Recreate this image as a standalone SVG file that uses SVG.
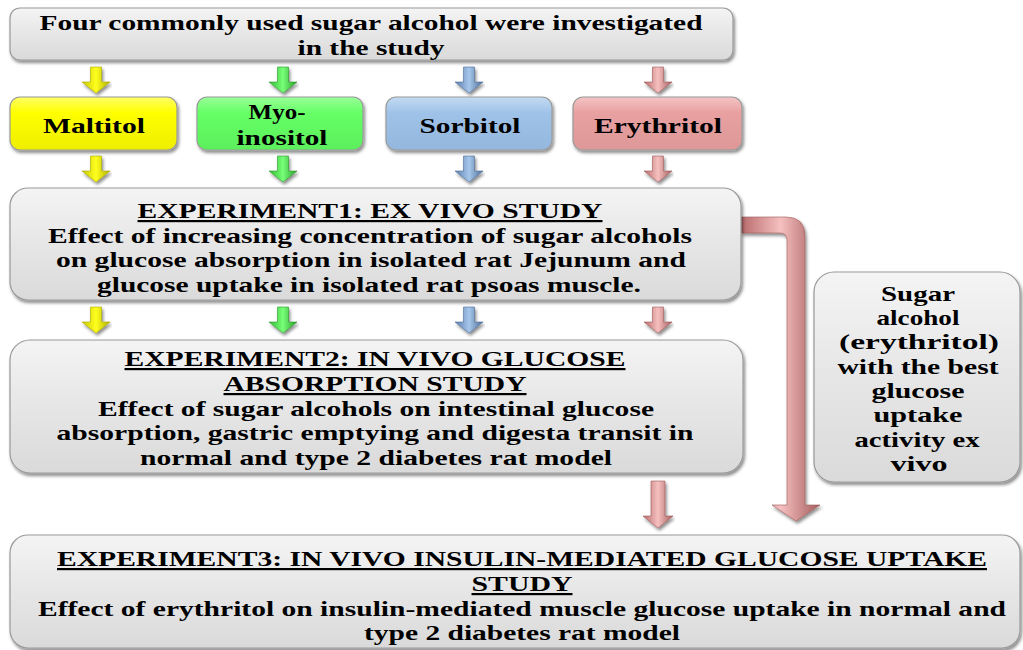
<svg xmlns="http://www.w3.org/2000/svg" width="1023" height="650" viewBox="0 0 1023 650">
<defs>
<linearGradient id="gGray" x1="0" y1="0" x2="0" y2="1">
<stop offset="0" stop-color="#f4f4f4"/><stop offset="0.5" stop-color="#e6e6e6"/><stop offset="1" stop-color="#dadada"/>
</linearGradient>
<linearGradient id="gYel" x1="0" y1="0" x2="0" y2="1">
<stop offset="0" stop-color="#ffff66"/><stop offset="0.3" stop-color="#ffff00"/><stop offset="1" stop-color="#eeee00"/>
</linearGradient>
<linearGradient id="gGrn" x1="0" y1="0" x2="0" y2="1">
<stop offset="0" stop-color="#99ff99"/><stop offset="0.3" stop-color="#66ff66"/><stop offset="1" stop-color="#5cef5c"/>
</linearGradient>
<linearGradient id="gBlu" x1="0" y1="0" x2="0" y2="1">
<stop offset="0" stop-color="#c4dbf2"/><stop offset="0.3" stop-color="#9fc3e8"/><stop offset="1" stop-color="#94b8dd"/>
</linearGradient>
<linearGradient id="gPnk" x1="0" y1="0" x2="0" y2="1">
<stop offset="0" stop-color="#f4c4c4"/><stop offset="0.3" stop-color="#e8a0a0"/><stop offset="1" stop-color="#de9898"/>
</linearGradient>
<linearGradient id="aYel" x1="0" y1="0" x2="1" y2="0">
<stop offset="0" stop-color="#c8c800"/><stop offset="0.5" stop-color="#ffff20"/><stop offset="1" stop-color="#b0b000"/>
</linearGradient>
<linearGradient id="aGrn" x1="0" y1="0" x2="1" y2="0">
<stop offset="0" stop-color="#33bb33"/><stop offset="0.5" stop-color="#77ff77"/><stop offset="1" stop-color="#2a9a2a"/>
</linearGradient>
<linearGradient id="aBlu" x1="0" y1="0" x2="1" y2="0">
<stop offset="0" stop-color="#5a7fae"/><stop offset="0.5" stop-color="#a6c6ea"/><stop offset="1" stop-color="#4f6f99"/>
</linearGradient>
<linearGradient id="aPnk" x1="0" y1="0" x2="1" y2="0">
<stop offset="0" stop-color="#b86a6a"/><stop offset="0.5" stop-color="#f6c0c0"/><stop offset="1" stop-color="#a55c5c"/>
</linearGradient>
<linearGradient id="aPnkV" x1="0" y1="0" x2="0" y2="1">
<stop offset="0" stop-color="#f6c0c0"/><stop offset="0.5" stop-color="#e4a0a0"/><stop offset="1" stop-color="#b06868"/>
</linearGradient>
<filter id="sh" x="-5%" y="-10%" width="110%" height="130%">
<feDropShadow dx="1.5" dy="2.5" stdDeviation="1.8" flood-color="#000" flood-opacity="0.45"/>
</filter>
<path id="arr" d="M-5.5,0 H5.5 V15 H14 L0,26 L-14,15 H-5.5 Z"/>
</defs>
<style>
.box{stroke:#9a9a9a;stroke-width:1.2;filter:url(#sh)}
.gray{fill:url(#gGray)}
.t{font-family:"Liberation Serif","Times New Roman",serif;font-weight:bold;font-size:22px;fill:#000;text-anchor:middle}
.u{text-decoration:underline}
.ar{filter:url(#sh)}
</style>
<rect width="1023" height="650" fill="#ffffff"/>

<g id="connectors">
<use href="#arr" x="96" y="67" fill="url(#aYel)" stroke="#a8a800" stroke-width="0.6" class="ar"/>
<use href="#arr" x="283" y="67" fill="url(#aGrn)" stroke="#2a9a2a" stroke-width="0.6" class="ar"/>
<use href="#arr" x="469" y="67" fill="url(#aBlu)" stroke="#4f6f99" stroke-width="0.6" class="ar"/>
<use href="#arr" x="658" y="67" fill="url(#aPnk)" stroke="#a05a5a" stroke-width="0.6" class="ar"/>

<use href="#arr" x="96" y="156" fill="url(#aYel)" stroke="#a8a800" stroke-width="0.6" class="ar"/>
<use href="#arr" x="283" y="156" fill="url(#aGrn)" stroke="#2a9a2a" stroke-width="0.6" class="ar"/>
<use href="#arr" x="469" y="156" fill="url(#aBlu)" stroke="#4f6f99" stroke-width="0.6" class="ar"/>
<use href="#arr" x="658" y="156" fill="url(#aPnk)" stroke="#a05a5a" stroke-width="0.6" class="ar"/>

<use href="#arr" x="96" y="307" fill="url(#aYel)" stroke="#a8a800" stroke-width="0.6" class="ar"/>
<use href="#arr" x="283" y="307" fill="url(#aGrn)" stroke="#2a9a2a" stroke-width="0.6" class="ar"/>
<use href="#arr" x="469" y="307" fill="url(#aBlu)" stroke="#4f6f99" stroke-width="0.6" class="ar"/>
<use href="#arr" x="658" y="307" fill="url(#aPnk)" stroke="#a05a5a" stroke-width="0.6" class="ar"/>

<path d="M651,481 H665 V516 H673 L658,528 L643,516 H651 Z" fill="url(#aPnk)" stroke="#a05a5a" stroke-width="0.6" class="ar"/>

<path d="M741,217 H786 Q805,217 805,236 V505 H820 L796,521 L772,505 H787 V240 Q787,233 780,233 H741 Z" fill="url(#aPnk)" stroke="#a05a5a" stroke-width="0.6" class="ar"/>
</g>

<g id="top">
<rect class="box gray" x="10" y="8" width="723" height="52" rx="10"/>
<text class="t" x="371" y="30" textLength="663" lengthAdjust="spacingAndGlyphs">Four commonly used sugar alcohol were investigated</text>
<text class="t" x="371" y="55" textLength="147" lengthAdjust="spacingAndGlyphs">in the study</text>
</g>

<g id="maltitol">
<rect class="box" x="10" y="97" width="167" height="53" rx="10" fill="url(#gYel)" stroke="#b8a800"/>
<text class="t" x="94" y="133" textLength="102" lengthAdjust="spacingAndGlyphs">Maltitol</text>
</g>
<g id="myoinositol">
<rect class="box" x="197" y="97" width="166" height="53" rx="10" fill="url(#gGrn)" stroke="#3aaa3a"/>
<text class="t" x="277" y="119" textLength="57" lengthAdjust="spacingAndGlyphs">Myo-</text>
<text class="t" x="282" y="145" textLength="91" lengthAdjust="spacingAndGlyphs">inositol</text>
</g>
<g id="sorbitol">
<rect class="box" x="386" y="97" width="166" height="53" rx="10" fill="url(#gBlu)" stroke="#6688b0"/>
<text class="t" x="470" y="133" textLength="101" lengthAdjust="spacingAndGlyphs">Sorbitol</text>
</g>
<g id="erythritol">
<rect class="box" x="573" y="97" width="169" height="53" rx="10" fill="url(#gPnk)" stroke="#b07070"/>
<text class="t" x="658" y="133" textLength="128" lengthAdjust="spacingAndGlyphs">Erythritol</text>
</g>

<g id="exp1">
<rect class="box gray" x="10" y="188" width="731" height="112" rx="18"/>
<text class="t u" x="370" y="218" textLength="465" lengthAdjust="spacingAndGlyphs">EXPERIMENT1: EX VIVO STUDY</text>
<text class="t" x="370" y="243" textLength="644" lengthAdjust="spacingAndGlyphs">Effect of increasing concentration of sugar alcohols</text>
<text class="t" x="371" y="267" textLength="630" lengthAdjust="spacingAndGlyphs">on glucose absorption in isolated rat Jejunum and</text>
<text class="t" x="369" y="292" textLength="544" lengthAdjust="spacingAndGlyphs">glucose uptake in isolated rat psoas muscle.</text>
</g>

<g id="exp2">
<rect class="box gray" x="10" y="340" width="733" height="133" rx="20"/>
<text class="t u" x="375" y="366" textLength="501" lengthAdjust="spacingAndGlyphs">EXPERIMENT2: IN VIVO GLUCOSE</text>
<text class="t u" x="375" y="391" textLength="303" lengthAdjust="spacingAndGlyphs">ABSORPTION STUDY</text>
<text class="t" x="376" y="416" textLength="556" lengthAdjust="spacingAndGlyphs">Effect of sugar alcohols on intestinal glucose</text>
<text class="t" x="375" y="440" textLength="637" lengthAdjust="spacingAndGlyphs">absorption, gastric emptying and digesta transit in</text>
<text class="t" x="376" y="465" textLength="472" lengthAdjust="spacingAndGlyphs">normal and type 2 diabetes rat model</text>
</g>

<g id="best">
<rect class="box gray" x="814" y="272" width="206" height="210" rx="20"/>
<text class="t" x="918" y="301" textLength="74" lengthAdjust="spacingAndGlyphs">Sugar</text>
<text class="t" x="918" y="325" textLength="83" lengthAdjust="spacingAndGlyphs">alcohol</text>
<text class="t" x="919" y="349" textLength="160" lengthAdjust="spacingAndGlyphs">(erythritol)</text>
<text class="t" x="918" y="374" textLength="161" lengthAdjust="spacingAndGlyphs">with the best</text>
<text class="t" x="918" y="398" textLength="93" lengthAdjust="spacingAndGlyphs">glucose</text>
<text class="t" x="918" y="422" textLength="89" lengthAdjust="spacingAndGlyphs">uptake</text>
<text class="t" x="917" y="447" textLength="125" lengthAdjust="spacingAndGlyphs">activity ex</text>
<text class="t" x="919" y="471" textLength="57" lengthAdjust="spacingAndGlyphs">vivo</text>
</g>

<g id="exp3">
<rect class="box gray" x="10" y="535" width="1010" height="113" rx="18"/>
<text class="t u" x="522" y="566" textLength="930" lengthAdjust="spacingAndGlyphs">EXPERIMENT3: IN VIVO INSULIN-MEDIATED GLUCOSE UPTAKE</text>
<text class="t u" x="522" y="591" textLength="101" lengthAdjust="spacingAndGlyphs">STUDY</text>
<text class="t" x="522" y="616" textLength="968" lengthAdjust="spacingAndGlyphs">Effect of erythritol on insulin-mediated muscle glucose uptake in normal and</text>
<text class="t" x="522" y="640" textLength="316" lengthAdjust="spacingAndGlyphs">type 2 diabetes rat model</text>
</g>
</svg>
